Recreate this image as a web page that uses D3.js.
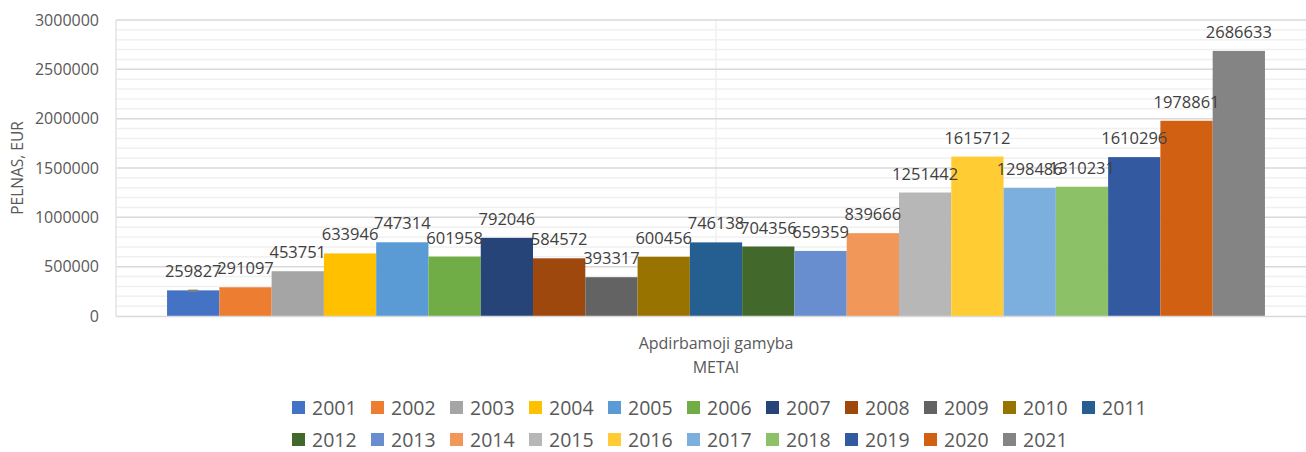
<!DOCTYPE html>
<html>
<head>
<meta charset="utf-8">
<script src="https://cdn.jsdelivr.net/npm/d3@7"></script>
<style>
  body { margin: 0; background: #fff; }
  svg { display: block; font-family: "Open Sans", "Liberation Sans", sans-serif; }
</style>
</head>
<body>
<div id="chart"></div>
<script>
// chart data
var category = ["Apdirbamoji gamyba"]
var years = ["2001","2002","2003","2004","2005","2006","2007","2008","2009","2010","2011",
             "2012","2013","2014","2015","2016","2017","2018","2019","2020","2021"]
var values = [259827, 291097, 453751, 633946, 747314, 601958, 792046, 584572, 393317, 600456, 746138,
              704356, 659359, 839666, 1251442, 1615712, 1298486, 1310231, 1610296, 1978861, 2686633]
var colors = ["#4472C4","#ED7D31","#A5A5A5","#FFC000","#5B9BD5","#70AD47","#264478","#9E480E","#636363","#997300","#255E91",
              "#43682B","#698ED0","#F1975A","#B7B7B7","#FFCD33","#7CAFDD","#8CC168","#335AA1","#D26012","#848484"]
var yTicks = [0, 500000, 1000000, 1500000, 2000000, 2500000, 3000000]
var yTitle = "PELNAS, EUR"
var xTitle = "METAI"

var width = 1306, height = 452
var plot = {left: 116, right: 1316, top: 20, bottom: 316}

var svg = d3.select("#chart").append("svg")
    .attr("width", width)
    .attr("height", height)

var x0 = d3.scaleBand()
    .domain(category)
    .range([plot.left, plot.right])
    .paddingInner(0)
    .paddingOuter(0.0465)

var x1 = d3.scaleBand()
    .domain(years)
    .range([0, x0.bandwidth()])

var y = d3.scaleLinear()
    .domain([0, 3000000])
    .range([plot.bottom, plot.top])

var color = d3.scaleOrdinal().domain(years).range(colors)

// minor gridlines every 100000
svg.append("g").selectAll("line")
    .data(d3.range(100000, 3000000, 100000).filter(function(v) { return v % 500000 != 0 }))
    .enter().append("line")
    .attr("x1", plot.left).attr("x2", plot.right)
    .attr("y1", function(d) { return y(d) }).attr("y2", function(d) { return y(d) })
    .style("stroke", "#f0f0f0").style("stroke-width", 1.5)

// vertical gridline at category centre
svg.append("line")
    .attr("x1", x0(category[0]) + x0.bandwidth() / 2).attr("x2", x0(category[0]) + x0.bandwidth() / 2)
    .attr("y1", plot.top).attr("y2", plot.bottom)
    .style("stroke", "#f0f0f0").style("stroke-width", 1.5)

// major gridlines
svg.append("g").selectAll("line")
    .data(yTicks.slice(1))
    .enter().append("line")
    .attr("x1", plot.left).attr("x2", plot.right)
    .attr("y1", function(d) { return y(d) }).attr("y2", function(d) { return y(d) })
    .style("stroke", "#d9d9d9").style("stroke-width", 1.5)

// left border
svg.append("line")
    .attr("x1", plot.left).attr("x2", plot.left)
    .attr("y1", plot.top).attr("y2", plot.bottom)
    .style("stroke", "#e3e3e3").style("stroke-width", 1.5)

// y axis labels
var yAxis = svg.append("g")
    .attr("transform", "translate(" + (plot.left - 17) + ",0)")
    .call(d3.axisLeft(y).tickValues(yTicks).tickSize(0).tickPadding(0).tickFormat(d3.format("d")))
yAxis.select(".domain").remove()
yAxis.selectAll("text")
    .style("font-size", "16px")
    .style("fill", "#595959")
    .style("font-family", "'Open Sans', sans-serif")

// bars
var group = svg.append("g")
    .attr("transform", "translate(" + x0(category[0]) + ",0)")

group.selectAll("rect")
    .data(years)
    .enter().append("rect")
    .attr("x", function(d) { return x1(d) })
    .attr("width", x1.bandwidth())
    .attr("y", function(d, i) { return y(values[i]) })
    .attr("height", function(d, i) { return y(0) - y(values[i]) })
    .style("fill", function(d) { return color(d) })

// little grey mark on top of the first bar
group.append("line")
    .attr("x1", x1(years[0]) + x1.bandwidth() / 2 - 5)
    .attr("x2", x1(years[0]) + x1.bandwidth() / 2 + 5)
    .attr("y1", y(values[0]) + 0.5).attr("y2", y(values[0]) + 0.5)
    .style("stroke", "#7f7f7f").style("stroke-width", 2.5)

// x axis baseline
svg.append("line")
    .attr("x1", plot.left).attr("x2", plot.right)
    .attr("y1", y(0) + 0.5).attr("y2", y(0) + 0.5)
    .style("stroke", "#d9d9d9").style("stroke-width", 1.5)

// value labels
group.selectAll(".lbl")
    .data(years)
    .enter().append("text")
    .attr("class", "lbl")
    .attr("x", function(d) { return x1(d) + x1.bandwidth() / 2 })
    .attr("y", function(d, i) { return y(values[i]) - 13 })
    .attr("text-anchor", "middle")
    .style("font-size", "16.5px")
    .style("fill", "#404040")
    .text(function(d, i) { return values[i] })

// category label and axis titles
svg.append("text")
    .attr("x", x0(category[0]) + x0.bandwidth() / 2)
    .attr("y", 349)
    .attr("text-anchor", "middle")
    .style("font-size", "16px")
    .style("fill", "#595959")
    .text(category[0])

svg.append("text")
    .attr("x", x0(category[0]) + x0.bandwidth() / 2)
    .attr("y", 373)
    .attr("text-anchor", "middle")
    .style("font-size", "16px")
    .style("fill", "#595959")
    .text(xTitle)

svg.append("text")
    .attr("transform", "translate(23," + ((plot.top + plot.bottom) / 2) + ") rotate(-90)")
    .attr("text-anchor", "middle")
    .style("font-size", "15.5px")
    .style("fill", "#595959")
    .text(yTitle)

// legend, two rows
var legend = svg.append("g").selectAll("g")
    .data(years)
    .enter().append("g")
    .attr("transform", function(d, i) {
        var row = i < 11 ? 0 : 1
        var col = row == 0 ? i : i - 11
        return "translate(" + (292 + col * 79) + "," + (row == 0 ? 400 : 432) + ")"
    })

legend.append("rect")
    .attr("width", 13).attr("height", 13)
    .attr("y", 1)
    .style("fill", function(d) { return color(d) })

legend.append("text")
    .attr("x", 20)
    .attr("y", 14.5)
    .style("font-size", "19.5px")
    .style("fill", "#595959")
    .text(function(d) { return d })
</script>
</body>
</html>
